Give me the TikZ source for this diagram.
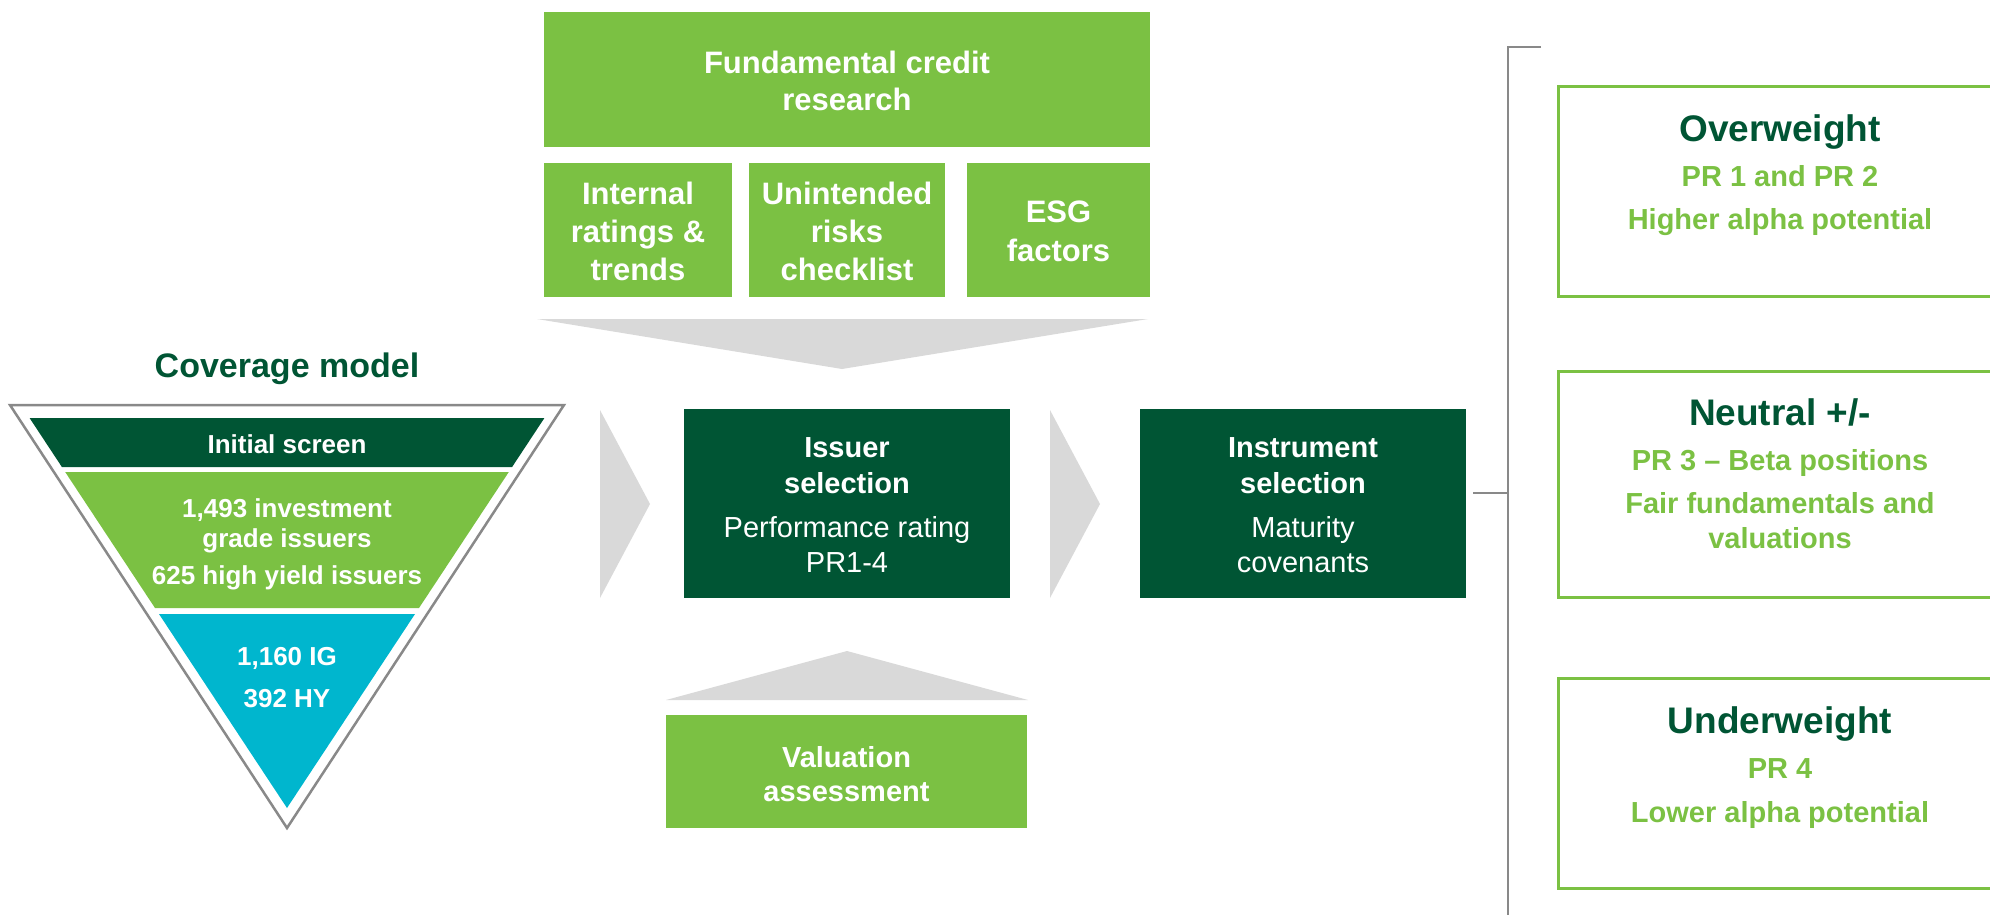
\documentclass[tikz,border=0pt]{standalone}
\usepackage{fontspec}
\setmainfont{Liberation Sans}
\definecolor{lgreen}{RGB}{123,193,67}
\definecolor{dgreen}{RGB}{0,85,52}
\definecolor{cyanband}{RGB}{0,182,206}
\definecolor{chevgray}{RGB}{217,217,217}
\definecolor{linegray}{RGB}{137,137,137}
\tikzset{
  panel/.style={inner sep=0pt, outer sep=0pt, draw=none},
  lbox/.style={panel, fill=lgreen},
  dbox/.style={panel, fill=dgreen},
  obox/.style={inner sep=0pt, outer sep=0pt, draw=lgreen, line width=3pt},
  chev/.style={fill=chevgray, draw=none},
  gline/.style={draw=linegray, line width=2.5pt},
  lbl/.style={anchor=base, inner sep=0pt, outer sep=0pt},
  wbig/.style={lbl, text=white, font=\bfseries\fontsize{31}{31}\selectfont},
  wmid/.style={lbl, text=white, font=\bfseries\fontsize{29}{29}\selectfont},
  wreg/.style={lbl, text=white, font=\fontsize{29}{29}\selectfont},
  wsmall/.style={lbl, text=white, font=\bfseries\fontsize{26}{26}\selectfont},
  headline/.style={lbl, text=dgreen, font=\bfseries\fontsize{37}{37}\selectfont},
  subline/.style={lbl, text=lgreen, font=\bfseries\fontsize{29}{29}\selectfont},
}
\begin{document}
\begin{tikzpicture}[x=1pt,y=-1pt]
\useasboundingbox (0,0) rectangle (1990,914);
\clip (0,0) rectangle (1990,914);

% ---------- coverage funnel ----------
\node[lbl, text=dgreen, font=\bfseries\fontsize{34}{34}\selectfont] (covtitle) at (287,377) {Coverage model};
\draw[gline] (10,405) -- (564,405) -- (287,828) -- cycle;
\fill[dgreen]    (29.6,418) -- (544.4,418) -- (512.1,467) -- (61.9,467) -- cycle;
\fill[lgreen]    (65.2,472) -- (508.8,472) -- (419,608) -- (155,608) -- cycle;
\fill[cyanband]  (159,614) -- (415,614) -- (287,808) -- cycle;
\node[wsmall] (f1) at (287,453) {Initial screen};
\node[wsmall] (f2) at (287,517) {1,493 investment};
\node[wsmall] (f3) at (287,547) {grade issuers};
\node[wsmall] (f4) at (287,584) {625 high yield issuers};
\node[wsmall] (f5) at (287,665) {1,160 IG};
\node[wsmall] (f6) at (287,707) {392 HY};

% ---------- research inputs ----------
\node[lbox, minimum width=606pt, minimum height=135pt] (fcr) at (847,79.5) {};
\node[wbig] (fcr1) at (847,73) {Fundamental credit};
\node[wbig] (fcr2) at (847,110) {research};

\node[lbox, minimum width=188pt, minimum height=134pt] (irt) at (638,230) {};
\node[lbox, minimum width=196pt, minimum height=134pt] (urc) at (847,230) {};
\node[lbox, minimum width=183pt, minimum height=134pt] (esg) at (1058.5,230) {};
\node[wbig] (irt1) at (638,204) {Internal};
\node[wbig] (irt2) at (638,242) {ratings \&};
\node[wbig] (irt3) at (638,280) {trends};
\node[wbig] (urc1) at (847,204) {Unintended};
\node[wbig] (urc2) at (847,242) {risks};
\node[wbig] (urc3) at (847,280) {checklist};
\node[wbig] (esg1) at (1058.5,222) {ESG};
\node[wbig] (esg2) at (1058.5,261) {factors};

\fill[chev] (537,319) -- (1148,319) -- (842,369) -- cycle;

% ---------- selection steps ----------
\fill[chev] (600,410) -- (650,504) -- (600,598) -- cycle;
\node[dbox, minimum width=326pt, minimum height=189pt] (issuer) at (847,503.5) {};
\node[wmid] (is1) at (847,457) {Issuer};
\node[wmid] (is2) at (847,493) {selection};
\node[wreg] (is3) at (847,537) {Performance rating};
\node[wreg] (is4) at (847,572) {PR1-4};

\fill[chev] (1050,410) -- (1100,504) -- (1050,598) -- cycle;
\node[dbox, minimum width=326pt, minimum height=189pt] (instr) at (1303,503.5) {};
\node[wmid] (in1) at (1303,457) {Instrument};
\node[wmid] (in2) at (1303,493) {selection};
\node[wreg] (in3) at (1303,537) {Maturity};
\node[wreg] (in4) at (1303,572) {covenants};

\fill[chev] (666,700) -- (847,651) -- (1028,700) -- cycle;
\node[lbox, minimum width=361pt, minimum height=113pt] (val) at (846.5,771.5) {};
\node[wmid] (va1) at (846.5,767) {Valuation};
\node[wmid] (va2) at (846.5,801) {assessment};

% ---------- bracket and outcomes ----------
\coordinate (brk) at (1508,493);
\draw[gline] (1541,47) -- (1508,47) -- (1508,920);
\draw[gline] ([xshift=7pt]instr.east |- brk) -- (brk);

\node[obox, minimum width=443pt, minimum height=210pt] (ow) at (1780,191.5) {};
\node[headline] (ow1) at (1780,141) {Overweight};
\node[subline]  (ow2) at (1780,186) {PR 1 and PR 2};
\node[subline]  (ow3) at (1780,229) {Higher alpha potential};

\node[obox, minimum width=443pt, minimum height=226pt] (nt) at (1780,484.5) {};
\node[headline] (nt1) at (1780,425) {Neutral +/-};
\node[subline]  (nt2) at (1780,470.5) {PR 3 – Beta positions};
\node[subline]  (nt3) at (1780,513) {Fair fundamentals and};
\node[subline]  (nt4) at (1780,548) {valuations};

\node[obox, minimum width=443pt, minimum height=210pt] (uw) at (1780,783.5) {};
\node[headline] (uw1) at (1780,733) {Underweight};
\node[subline]  (uw2) at (1780,778) {PR 4};
\node[subline]  (uw3) at (1780,822) {Lower alpha potential};
\end{tikzpicture}
\end{document}
